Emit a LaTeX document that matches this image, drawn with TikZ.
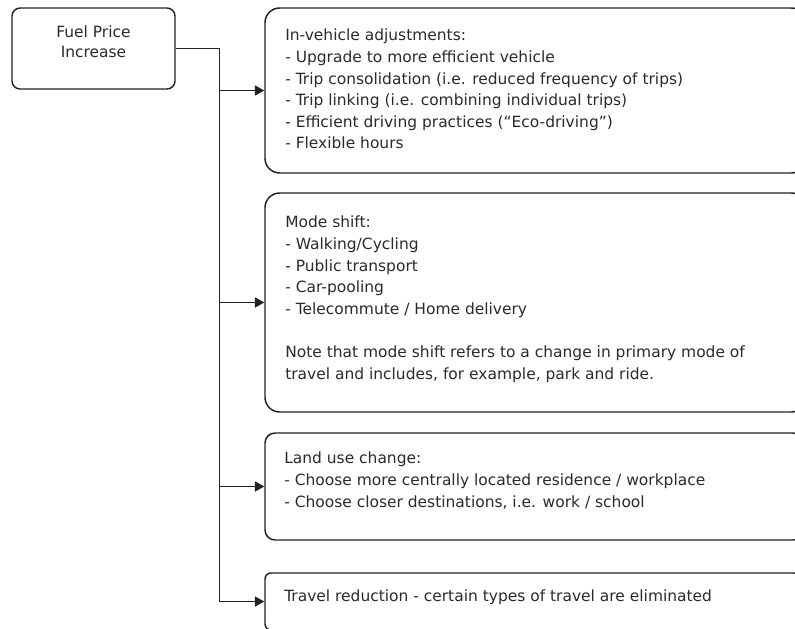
\documentclass[tikz,border=0pt]{standalone}
\usepackage{fontspec}
\setmainfont{DejaVu Sans}
\usetikzlibrary{fit,arrows.meta}
\definecolor{ink}{HTML}{222222}
\definecolor{txt}{HTML}{2A2A2A}
\tikzset{
  box/.style={draw=ink, line width=1.1pt, fill=white, inner sep=0pt},
  label/.style={anchor=north west, align=left, inner sep=0pt, text=txt,
    font=\fontsize{11.6pt}{16.2pt}\selectfont},
  wire/.style={draw=ink, line width=1.1pt},
  arr/.style={wire, -{Triangle[length=7pt,width=7.5pt]}}
}
\begin{document}
\begin{tikzpicture}[x=0.75pt,y=-0.75pt]
\useasboundingbox (0,0) rectangle (795,628);
\clip (0,0) rectangle (795,628);
% boxes
\node[box, rounded corners=6pt, fit={(12,8) (175,89)}] (fuel) {};
\node[box, rounded corners=11pt, fit={(265,8) (806,173)}] (b1) {};
\node[box, rounded corners=11pt, fit={(265,193) (806,412)}] (b2) {};
\node[box, rounded corners=7.5pt, fit={(265,433) (803,540)}] (b3) {};
\node[box, rounded corners=4.5pt, fit={(265,573) (800,630)}] (b4) {};
% texts
\node[anchor=north, align=center, inner sep=0pt, text=txt,
  font=\fontsize{11.6pt}{15pt}\selectfont] (tf) at (93.5,25.9) {Fuel Price\\Increase};
\node[label] (t1) at (285,28.9) {In-vehicle adjustments:\\
- Upgrade to more efficient vehicle\\
- Trip consolidation (i.e. reduced frequency of trips)\\
- Trip linking (i.e. combining individual trips)\\
- Efficient driving practices (“Eco-driving”)\\
- Flexible hours};
\node[label] (t2) at (285,215.9) {Mode shift:\\
- Walking/Cycling\\
- Public transport\\
- Car-pooling\\
- Telecommute / Home delivery\\[16.2pt]
Note that mode shift refers to a change in primary mode of\\
travel and includes, for example, park and ride.};
\node[label] (t3) at (284,451.9) {Land use change:\\
- Choose more centrally located residence / workplace\\
- Choose closer destinations, i.e. work / school};
\node[label] (t4) at (284,589.9) {Travel reduction - certain types of travel are eliminated};
% connectors
\coordinate (j) at (219.5,48.5);
\draw[wire] (fuel.east) -- (j) -- (j |- b4.west);
\draw[arr] (j |- b1.west) -- (b1.west);
\draw[arr] (j |- b2.west) -- (b2.west);
\draw[arr] (j |- b3.west) -- (b3.west);
\draw[arr] (j |- b4.west) -- (b4.west);
\end{tikzpicture}
\end{document}
